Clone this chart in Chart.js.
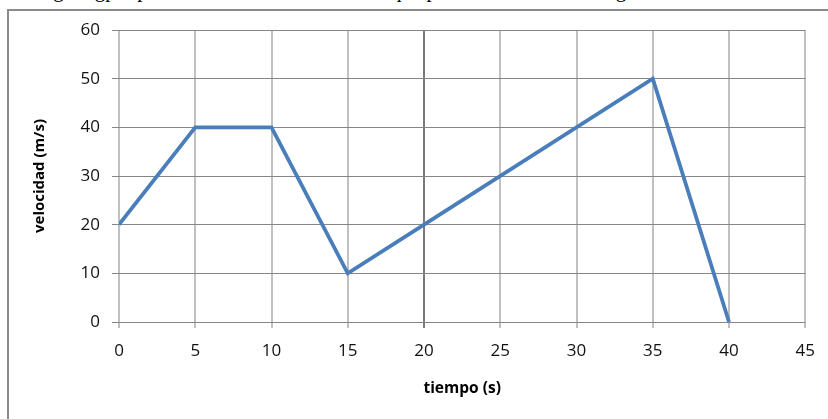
<!DOCTYPE html>
<html>
<head>
<meta charset="utf-8">
<script src="https://cdn.jsdelivr.net/npm/chart.js@4"></script>
<style>
  html, body { margin: 0; padding: 0; background: #fff; }
  body { width: 828px; height: 419px; position: relative; overflow: hidden; }
  #toptext { position: absolute; left: 2px; top: -20px; font-family: "Liberation Serif", serif; font-size: 21px; line-height: 21px; white-space: nowrap; color: #000; }
  #frame { position: absolute; left: 7px; top: 9px; width: 840px; height: 430px; border: 2px solid #8a8a8a; box-sizing: border-box; }
  #wrap { position: absolute; left: 0; top: 0; width: 828px; height: 419px; }
</style>
</head>
<body>
<div id="toptext">rectangula gp representa un movimiento en el que puede ser visto a lo largo de este recorrido</div>
<div id="frame"></div>
<div id="wrap"><canvas id="c" width="828" height="419"></canvas></div>
<script>
const tiempo = [0, 5, 10, 15, 20, 35, 40];
const velocidad = [20, 40, 40, 10, 20, 50, 0];
const xTicks = [0, 5, 10, 15, 20, 25, 30, 35, 40, 45];
const yTicks = [0, 10, 20, 30, 40, 50, 60];

const points = tiempo.map((t, i) => ({ x: t, y: velocidad[i] }));
const fontFam = '"Open Sans", "DejaVu Sans", sans-serif';

new Chart(document.getElementById('c'), {
  type: 'line',
  data: {
    datasets: [{
      data: points,
      borderColor: '#4a7ebb',
      borderWidth: 3.8,
      pointRadius: 0,
      tension: 0,
      fill: false
    }]
  },
  options: {
    responsive: false,
    animation: false,
    events: [],
    layout: { padding: { left: 0, right: 22.5, top: 30, bottom: 0 } },
    plugins: { legend: { display: false }, tooltip: { enabled: false } },
    scales: {
      x: {
        type: 'linear',
        min: 0, max: 45,
        afterBuildTicks: s => { s.ticks = xTicks.map(v => ({ value: v })); },
        afterFit: s => { s.height = 97; },
        border: { display: false },
        grid: {
          color: ctx => (ctx.tick && ctx.tick.value === 20) ? '#7a7a7a' : '#c0c0c0',
          lineWidth: 2,
          tickLength: 6,
          tickColor: ctx => (ctx.tick && ctx.tick.value === 20) ? '#7a7a7a' : '#c0c0c0'
        },
        ticks: { color: '#111', font: { family: fontFam, size: 17 }, padding: 13, maxRotation: 0 },
        title: { display: true, text: 'tiempo (s)', color: '#000', font: { family: fontFam, size: 15.5, weight: 'bold' }, padding: { top: 0, bottom: 21 } }
      },
      y: {
        type: 'linear',
        min: 0, max: 60,
        afterBuildTicks: s => { s.ticks = yTicks.map(v => ({ value: v })); },
        afterFit: s => { s.width = 119; },
        border: { display: false },
        grid: { color: '#868686', lineWidth: 1, tickLength: 7, tickColor: '#868686' },
        ticks: { color: '#111', font: { family: fontFam, size: 17 }, padding: 12 },
        title: { display: true, text: 'velocidad (m/s)', color: '#000', font: { family: fontFam, size: 15, weight: 'bold' }, padding: { top: 31, bottom: 0 } }
      }
    }
  }
});
</script>
</body>
</html>
